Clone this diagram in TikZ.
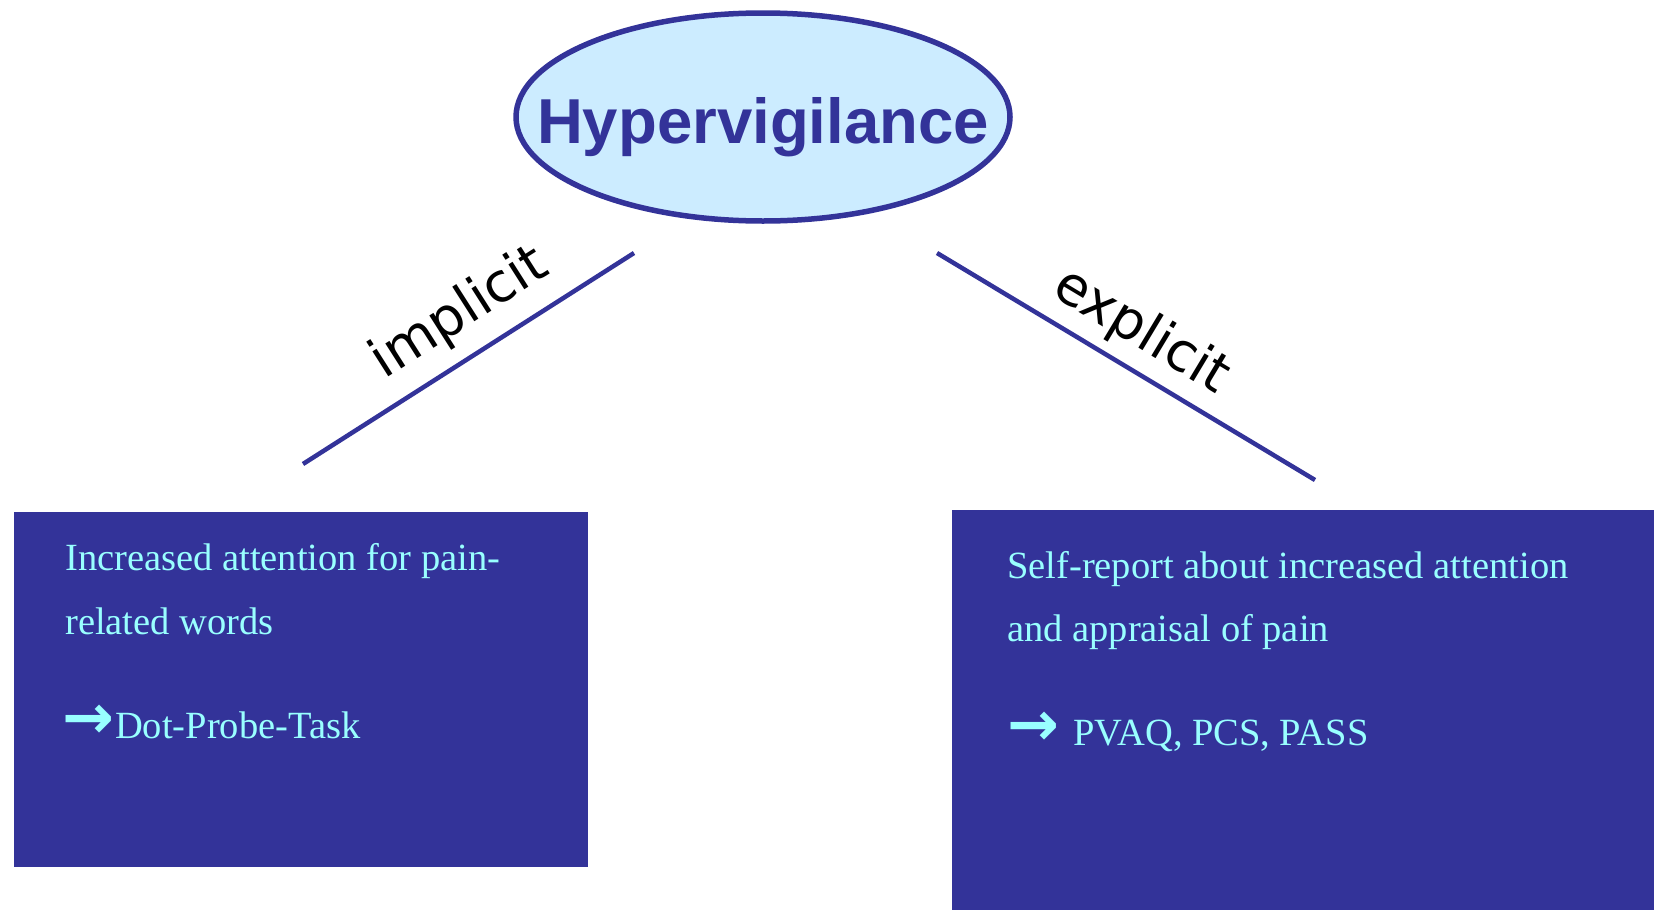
\documentclass[tikz,border=0pt]{standalone}
\usepackage{fontspec}
\setmainfont{Liberation Serif}
\newfontfamily\labelfont{DejaVu Sans}
\newfontfamily\titlefont{Liberation Sans}
\newfontfamily\arrowfont{DejaVu Sans}
\usetikzlibrary{shapes.geometric}
\definecolor{navy}{HTML}{333399}
\definecolor{pale}{HTML}{CCECFF}
\definecolor{cyantext}{HTML}{99FFFF}
\begin{document}
\begin{tikzpicture}[x=1pt,y=-1pt,
  boxtext/.style={anchor=base west,inner sep=0pt,text=cyantext,font=\fontsize{38.5}{46}\selectfont},
  branch/.style={draw=navy,line width=4.5pt},
  lbl/.style={inner sep=0pt,font=\labelfont\fontsize{54}{60}\selectfont},
  panel/.style={fill=navy,anchor=north west,inner sep=0pt,draw=none}]
\path[use as bounding box] (0,0) rectangle (1654,910);
\fill[white] (0,0) rectangle (1654,910);
% ellipse
\node[ellipse, draw=navy, line width=5.5pt, fill=pale, minimum width=494pt, minimum height=208pt, inner sep=0pt] (hyp) at (763,117) {};
\node[anchor=base, inner sep=0pt, text=navy, font=\titlefont\bfseries\fontsize{63.5}{70}\selectfont] (title) at (763,143) {Hypervigilance};
% branches
\coordinate (la) at (634,253);
\coordinate (lb) at (303,464);
\coordinate (ra) at (937,253);
\coordinate (rb) at (1315,480);
\draw[branch] (la) -- (lb);
\draw[branch] (ra) -- (rb);
\node[lbl, rotate=32.5] (impl) at (460,314) {implicit};
\node[lbl, rotate=-31] (expl) at (1141,332) {explicit};
% boxes
\node[panel, minimum width=574pt, minimum height=355pt] (lbox) at (14,512) {};
\node[panel, minimum width=702pt, minimum height=400pt] (rbox) at (952,510) {};
% left text
\node[boxtext] (l1) at (65,570) {Increased attention for pain-};
\node[boxtext] (l2) at (65,634) {related words};
\node[boxtext] (l3) at (62,738) {{\arrowfont\bfseries\fontsize{62}{66}\selectfont →}\hspace{1pt}Dot-Probe-Task};
% right text
\node[boxtext] (r1) at (1007,578) {Self-report about increased attention};
\node[boxtext] (r2) at (1007,641) {and appraisal of pain};
\node[boxtext] (r3) at (1007,745) {{\arrowfont\bfseries\fontsize{62}{66}\selectfont →}\hspace{14pt}PVAQ, PCS, PASS};
\end{tikzpicture}
\end{document}
